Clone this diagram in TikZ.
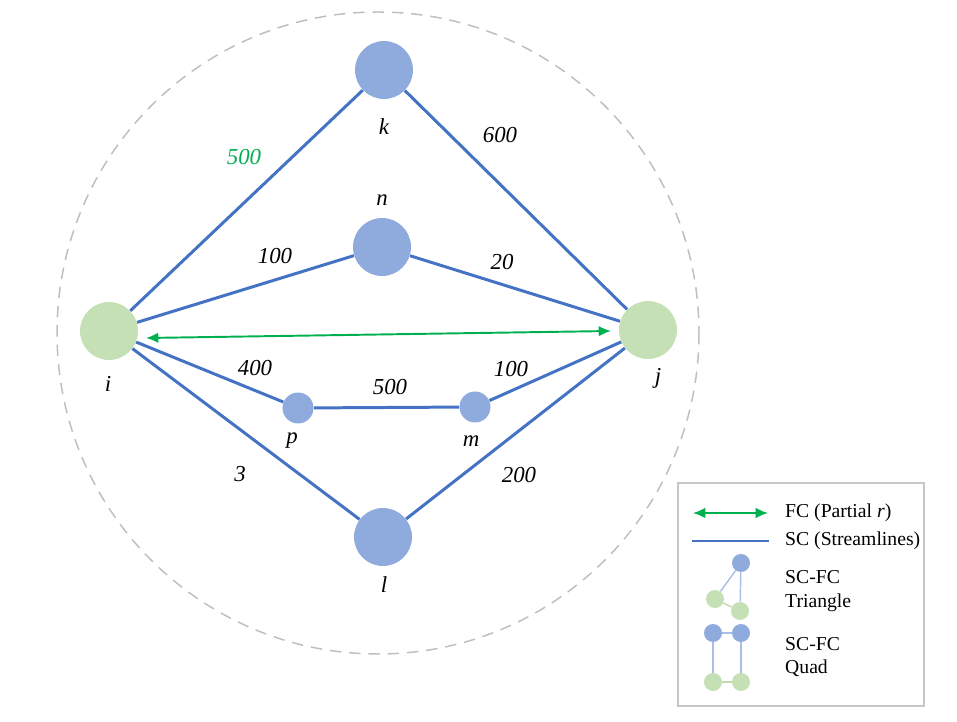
\documentclass[tikz,border=0pt]{standalone}
\usepackage{fontspec}
\setmainfont{Liberation Serif}
\usetikzlibrary{arrows.meta}
\definecolor{scblue}{RGB}{68,114,196}
\definecolor{nodeblue}{RGB}{143,170,220}
\definecolor{nodegreen}{RGB}{197,224,180}
\definecolor{fcgreen}{RGB}{0,176,80}
\definecolor{thinblue}{RGB}{168,190,232}
\definecolor{thingreen}{RGB}{190,220,172}
\tikzset{
	bignode/.style={circle, inner sep=0pt, minimum size=1.16cm},
	smallnode/.style={circle, inner sep=0pt, minimum size=0.62cm, fill=nodeblue},
	keynode/.style={circle, inner sep=0pt, minimum size=0.36cm},
	sc/.style={scblue, line width=1.7pt},
	fc/.style={fcgreen, line width=1.1pt, {Latex[length=7pt,width=6pt]}-{Latex[length=7pt,width=6pt]}},
	lbl/.style={font=\fontsize{13}{15}\selectfont\itshape},
	keytext/.style={anchor=west, align=left, font=\fontsize{11.2}{13.5}\selectfont}
}

\begin{document}
\begin{tikzpicture}[x=0.02cm, y=-0.02cm]
		%%%%% START %%%%%
		\useasboundingbox (0,0) rectangle (957,722);
		\draw[black!25, line width=0.85pt, dash pattern=on 6.5pt off 4.5pt] (378,333) circle (321);
		
		% regions
		\node[bignode, fill=nodegreen] (i) at (109,331) {};
		\node[bignode, fill=nodegreen] (j) at (648,330) {};
		\node[bignode, fill=nodeblue] (k) at (384,70) {};
		\node[bignode, fill=nodeblue] (n) at (382,247) {};
		\node[bignode, fill=nodeblue] (l) at (383,537) {};
		\node[smallnode] (p) at (298,408) {};
		\node[smallnode] (m) at (475,407) {};
		
		% streamlines
		\draw[sc] (i) -- (k) -- (j);
		\draw[sc] (i) -- (n) -- (j);
		\draw[sc] (i) -- (p) -- (m) -- (j);
		\draw[sc] (i) -- (l) -- (j);
		
		% partial correlation
		\coordinate (fcl) at (146,338);
		\coordinate (fcr) at (611,331);
		\draw[fc] (fcl) -- (fcr);
		
		% names
		\node[lbl] (ki) at (384,127) {k};
		\node[lbl] (ni) at (382,200) {n};
		\node[lbl] (ii) at (108,384) {i};
		\node[lbl] (ji) at (658,378) {j};
		\node[lbl] (pi) at (292,441) {p};
		\node[lbl] (mi) at (471,441) {m};
		\node[lbl] (li) at (384,585) {l};
		
		% weights
		\node[lbl, text=fcgreen] (wik) at (244,157) {500};
		\node[lbl] (wkj) at (500,135) {600};
		\node[lbl] (win) at (275,256) {100};
		\node[lbl] (wnj) at (502,262) {20};
		\node[lbl] (wip) at (255,368) {400};
		\node[lbl] (wpm) at (390,387) {500};
		\node[lbl] (wmj) at (511,369) {100};
		\node[lbl] (wil) at (240,474) {3};
		\node[lbl] (wlj) at (519,475) {200};
		
		% key
		\draw[black!22, line width=0.85pt] (678,483) rectangle (924,706);
		\coordinate (fca) at (693,513);
		\coordinate (fcb) at (768,513);
		\draw[fc] (fca) -- (fcb);
		\node[keytext] (fct) at (779,513) {FC (Partial \textit{r})};
		\coordinate (sca) at (692,541);
		\coordinate (scb) at (769,541);
		\draw[sc] (sca) -- (scb);
		\node[keytext] (sct) at (779,541) {SC (Streamlines)};
		
		\node[keynode, fill=nodeblue] (ta) at (741,563) {};
		\node[keynode, fill=nodegreen] (tb) at (715,599) {};
		\node[keynode, fill=nodegreen] (tc) at (740,611) {};
		\draw[thinblue, line width=0.8pt] (tb) -- (ta) -- (tc);
		\draw[thingreen, line width=0.8pt] (tb) -- (tc);
		\node[keytext] (trit) at (779,591) {SC-FC\\Triangle};
		
		\node[keynode, fill=nodeblue] (qa) at (713,633) {};
		\node[keynode, fill=nodeblue] (qb) at (741,633) {};
		\node[keynode, fill=nodegreen] (qc) at (713,682) {};
		\node[keynode, fill=nodegreen] (qd) at (741,682) {};
		\draw[thinblue, line width=0.8pt] (qc) -- (qa) -- (qb) -- (qd);
		\draw[thingreen, line width=0.8pt] (qc) -- (qd);
		\node[keytext] (quat) at (779,657) {SC-FC\\Quad};
		%%%%% END %%%%%
\end{tikzpicture}
\end{document}
